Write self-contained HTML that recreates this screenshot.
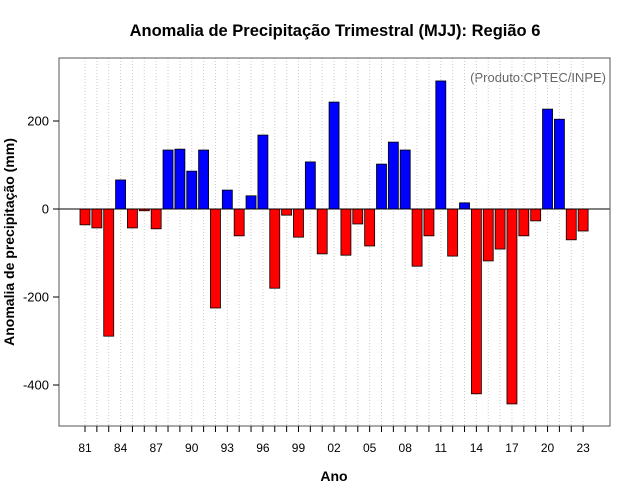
<!DOCTYPE html>
<html><head><meta charset="utf-8"><style>
body{margin:0;background:#fff;}
svg{display:block;font-family:"Liberation Sans",sans-serif;}
</style></head><body>
<svg id="c" width="640" height="500">
<text x="335" y="36" text-anchor="middle" font-size="16.5" font-weight="bold">Anomalia de Precipitação Trimestral (MJJ): Região 6</text>
<text x="606" y="82" text-anchor="end" font-size="13" fill="#666">(Produto:CPTEC/INPE)</text>
<text x="334" y="481" text-anchor="middle" font-size="14" font-weight="bold">Ano</text>
<text transform="translate(14,242) rotate(-90)" text-anchor="middle" font-size="14" font-weight="bold">Anomalia de precipitação (mm)</text>
<g id="grid"></g><g id="bars"></g><g id="axes"></g>
</svg>
<script>
const years = [1981,1982,1983,1984,1985,1986,1987,1988,1989,1990,1991,1992,1993,1994,1995,1996,1997,1998,1999,2000,2001,2002,2003,2004,2005,2006,2007,2008,2009,2010,2011,2012,2013,2014,2015,2016,2017,2018,2019,2020,2021,2022,2023];
const anomalies = [-36,-43,-289,66,-43,-4,-45,134,136,86,134,-225,43,-61,30,168,-180,-14,-64,107,-102,243,-105,-34,-84,102,152,134,-130,-61,291,-107,14,-420,-118,-91,-443,-61,-27,227,204,-70,-50];
const yTicks = [200,0,-200,-400];
const xTickLabels = ["81","84","87","90","93","96","99","02","05","08","11","14","17","20","23"];

const NS="http://www.w3.org/2000/svg";
const L=59,R=610,T=58,B=426;
const x = yr => 85 + (yr-1981)*11.86;
const y = v => 209 - v*0.44;
function mk(tag,attrs,parent){const e=document.createElementNS(NS,tag);for(const k in attrs)e.setAttribute(k,attrs[k]);document.getElementById(parent).appendChild(e);return e;}

years.forEach(yr=>{
  const g=mk('line',{x1:x(yr),x2:x(yr),y1:T,y2:B,stroke:'#ccc','stroke-dasharray':'1,2','stroke-width':1},'grid');
  
  
});
years.forEach((yr,i)=>{
  const v=anomalies[i];
  const r=mk('rect',{x:x(yr)-5,y:Math.min(y(v),y(0)),width:10,height:Math.abs(y(v)-y(0)),fill:v>=0?'#0000ff':'#ff0000',stroke:'#000','stroke-width':0.8},'bars');
  
  
});
const z=mk('line',{x1:L,x2:R,y1:y(0),y2:y(0),stroke:'#000','stroke-width':1},'axes');


const box=mk('rect',{x:L,y:T,width:R-L,height:B-T,fill:'none',stroke:'#555','stroke-width':1},'axes');


yTicks.forEach(t=>{
  mk('line',{x1:L-6,x2:L,y1:y(t),y2:y(t),stroke:'#000'},'axes');
  const tx=mk('text',{x:L-10,y:y(t)+4.5,'text-anchor':'end','font-size':13},'axes');
  tx.textContent=t;
  
  
});
years.forEach(yr=>{
  mk('line',{x1:x(yr),x2:x(yr),y1:B,y2:B+6,stroke:'#000'},'axes');
});
xTickLabels.forEach((lab,i)=>{
  const yr=1981+i*3;
  const tx=mk('text',{x:x(yr),y:452,'text-anchor':'middle','font-size':12},'axes');
  tx.textContent=lab;
  
  
});
</script>
</body></html>
